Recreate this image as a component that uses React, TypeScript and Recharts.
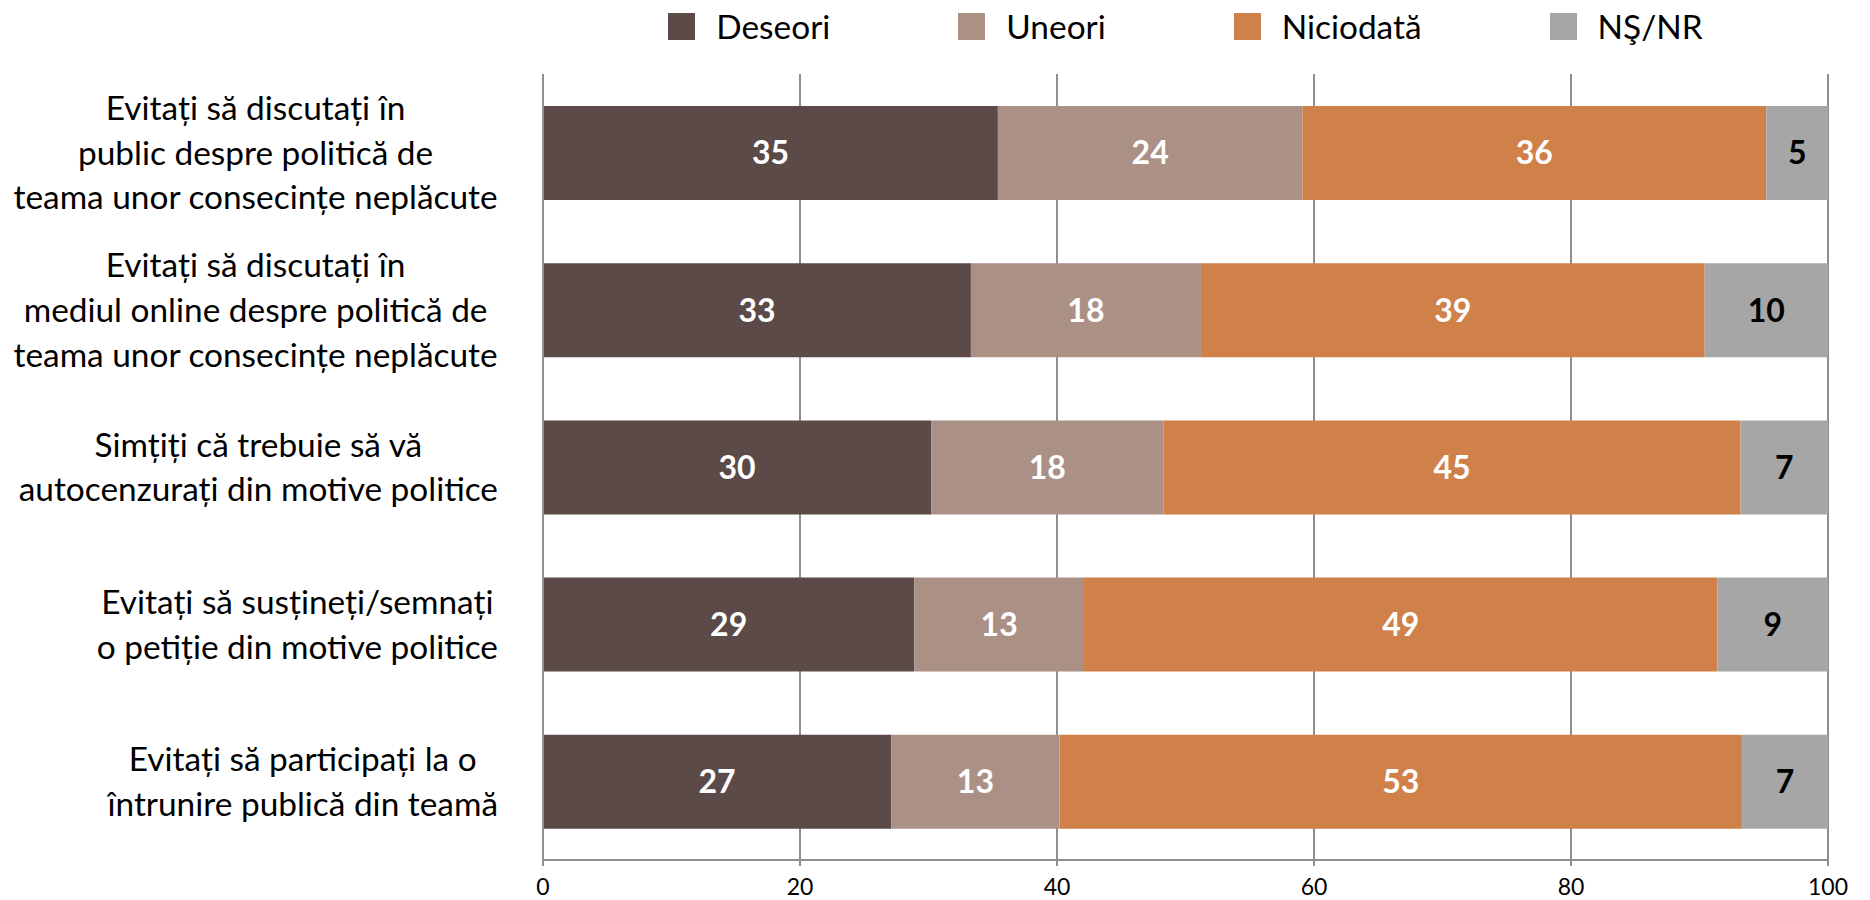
import React from 'react';
import { BarChart, Bar, XAxis, YAxis, CartesianGrid, Legend, LabelList } from 'recharts';

const categories = [
  'Evitați să discutați în\npublic despre politică de\nteama unor consecințe neplăcute',
  'Evitați să discutați în\nmediul online despre politică de\nteama unor consecințe neplăcute',
  'Simțiți că trebuie să vă\nautocenzurați din motive politice',
  'Evitați să susțineți/semnați\no petiție din motive politice',
  'Evitați să participați la o\nîntrunire publică din teamă',
];
const deseori = [35.4, 33.3, 30.2, 28.9, 27.1];
const uneori = [23.7, 17.9, 18.1, 13.2, 13.1];
const niciodata = [36.1, 39.2, 44.9, 49.3, 53.1];
const nsnr = [4.8, 9.6, 6.8, 8.6, 6.7];
const xTicks = [0, 20, 40, 60, 80, 100];
const edgeTicks = [0, 1, 2, 3, 4, 5];
const seriesKeys = ['deseori', 'uneori', 'niciodata', 'nsnr'];
const seriesNames = ['Deseori', 'Uneori', 'Niciodată', 'NŞ/NR'];
const seriesColors = ['#5B4A47', '#AB9086', '#D08049', '#A6A6A6'];
const labelColors = ['#FFFFFF', '#FFFFFF', '#FFFFFF', '#000000'];

const data = categories.map((name, i) => ({
  name,
  deseori: deseori[i],
  uneori: uneori[i],
  niciodata: niciodata[i],
  nsnr: nsnr[i],
}));

const FONT = 'Lato, sans-serif';
const CAT_SIZE = 33.4;
const CAT_LH = 44.7;
const AXIS_COLOR = '#8E8E8E';

let ctx: CanvasRenderingContext2D | null = null;
function measure(text: string, font: string): number {
  if (!ctx) ctx = document.createElement('canvas').getContext('2d');
  if (!ctx) return text.length * CAT_SIZE * 0.5;
  ctx.font = font;
  return ctx.measureText(text).width;
}

const CategoryTick = (props: any) => {
  const { x, y, payload } = props;
  const lines = String(payload.value).split('\n');
  const w = Math.max(...lines.map((l) => measure(l, `${CAT_SIZE}px Lato`)));
  const cx = x - w / 2;
  const n = lines.length;
  return (
    <text textAnchor="middle" fontFamily={FONT} fontSize={CAT_SIZE} fill="#000000">
      {lines.map((l, i) => (
        <tspan key={i} x={cx} y={y + (i - (n - 1) / 2) * CAT_LH} dy="0.36em">
          {l}
        </tspan>
      ))}
    </text>
  );
};

const LegendContent = () => (
  <div
    style={{
      display: 'flex',
      justifyContent: 'center',
      alignItems: 'center',
      gap: 128,
      fontFamily: FONT,
      fontSize: 33.4,
      lineHeight: '36px',
      color: '#000',
    }}
  >
    {seriesNames.map((n, i) => (
      <div key={n} style={{ display: 'flex', alignItems: 'center' }}>
        <span
          style={{
            display: 'inline-block',
            width: 27,
            height: 27,
            background: seriesColors[i],
            marginRight: 21,
          }}
        />
        <span>{n}</span>
      </div>
    ))}
  </div>
);

export default function App() {
  return (
    <div style={{ position: 'absolute', left: 0, top: 0, background: '#fff' }}>
      <BarChart
        width={1870}
        height={900}
        data={data}
        layout="vertical"
        margin={{ top: 74, right: 42, bottom: 0, left: 0 }}
        barSize={94}
      >
        <CartesianGrid horizontal={false} stroke={AXIS_COLOR} strokeWidth={2} />
        <XAxis
          type="number"
          domain={[0, 100]}
          ticks={xTicks}
          interval={0}
          height={40}
          stroke={AXIS_COLOR}
          strokeWidth={2}
          tickSize={6}
          tickMargin={13}
          tick={{ fill: '#000000', fontSize: 23, fontFamily: FONT }}
          allowDataOverflow
        />
        <YAxis
          type="category"
          dataKey="name"
          width={543}
          tick={<CategoryTick />}
          tickSize={0}
          tickMargin={45}
          stroke={AXIS_COLOR}
          strokeWidth={2}
          interval={0}
        />
        <YAxis
          yAxisId="edge"
          type="number"
          domain={[0, 5]}
          ticks={edgeTicks}
          width={0}
          tick={false}
          axisLine={false}
          tickSize={6}
          stroke={AXIS_COLOR}
          strokeWidth={2}
          allowDataOverflow
        />
        <Legend
          layout="vertical"
          align="center"
          verticalAlign="middle"
          content={<LegendContent />}
          wrapperStyle={{ position: 'absolute', top: 8, left: 543, width: 1285, height: 36 }}
        />
        {seriesKeys.map((k, i) => (
          <Bar key={k} dataKey={k} name={seriesNames[i]} stackId="a" fill={seriesColors[i]} isAnimationActive={false}>
            <LabelList
              dataKey={k}
              position="center"
              formatter={(v: any) => Math.round(Number(v))}
              fill={labelColors[i]}
              fontSize={32}
              fontWeight="bold"
              fontFamily={FONT}
            />
          </Bar>
        ))}
      </BarChart>
    </div>
  );
}
